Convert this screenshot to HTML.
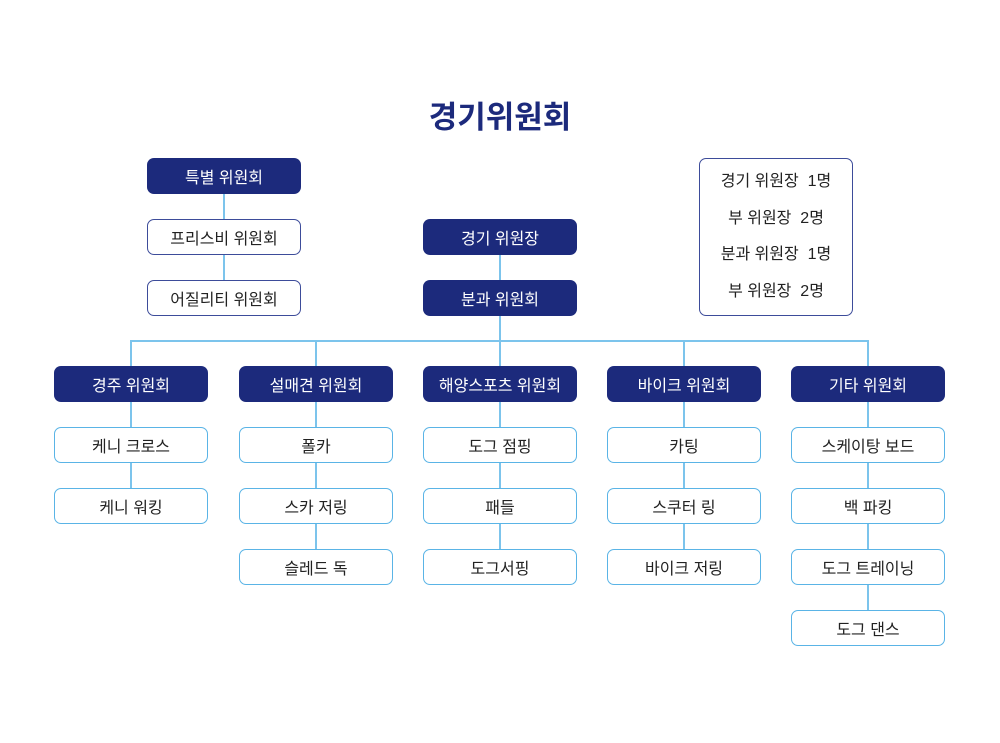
<!DOCTYPE html><html><head><meta charset="utf-8"><style>
body{margin:0;width:1000px;height:743px;background:#fff;position:relative;font-family:"Liberation Sans","Noto Sans CJK KR",sans-serif;overflow:hidden}
.b{position:absolute;width:154px;height:36px;box-sizing:border-box;border-radius:7px;display:flex;align-items:center;justify-content:center;font-size:16px;color:#222}
.n{background:#1c2a7c;color:#fff}
.w{border:1.5px solid #5ab4e6;background:#fff}
.v{border:1.5px solid #3d4c9a;background:#fff}
.l{position:absolute;background:#7cc4ec}
</style></head><body>
<div style="position:absolute;left:0;width:1000px;top:92px;text-align:center;font-size:31px;font-weight:bold;color:#1c2a7c">경기위원회</div>
<div class="l" style="left:223px;top:194px;width:2px;height:86px"></div>
<div class="l" style="left:499px;top:255px;width:2px;height:86px"></div>
<div class="l" style="left:131px;top:340px;width:738px;height:2px"></div>
<div class="l" style="left:130px;top:340px;width:2px;height:167px"></div>
<div class="l" style="left:315px;top:340px;width:2px;height:228px"></div>
<div class="l" style="left:499px;top:340px;width:2px;height:228px"></div>
<div class="l" style="left:683px;top:340px;width:2px;height:228px"></div>
<div class="l" style="left:867px;top:340px;width:2px;height:289px"></div>
<div class="b n" style="left:147px;top:158px">특별 위원회</div>
<div class="b v" style="left:147px;top:219px">프리스비 위원회</div>
<div class="b v" style="left:147px;top:280px">어질리티 위원회</div>
<div class="b n" style="left:423px;top:219px">경기 위원장</div>
<div class="b n" style="left:423px;top:280px">분과 위원회</div>
<div style="position:absolute;left:699px;top:158px;width:154px;height:158px;box-sizing:border-box;border:1.5px solid #3d4c9a;border-radius:7px;font-size:16px;color:#222;text-align:center;line-height:36.5px;padding-top:5px;white-space:pre">경기 위원장  1명
부 위원장  2명
분과 위원장  1명
부 위원장  2명</div>
<div class="b n" style="left:54px;top:366px">경주 위원회</div>
<div class="b w" style="left:54px;top:427px">케니 크로스</div>
<div class="b w" style="left:54px;top:488px">케니 워킹</div>
<div class="b n" style="left:239px;top:366px">설매견 위원회</div>
<div class="b w" style="left:239px;top:427px">폴카</div>
<div class="b w" style="left:239px;top:488px">스카 저링</div>
<div class="b w" style="left:239px;top:549px">슬레드 독</div>
<div class="b n" style="left:423px;top:366px">해양스포츠 위원회</div>
<div class="b w" style="left:423px;top:427px">도그 점핑</div>
<div class="b w" style="left:423px;top:488px">패들</div>
<div class="b w" style="left:423px;top:549px">도그서핑</div>
<div class="b n" style="left:607px;top:366px">바이크 위원회</div>
<div class="b w" style="left:607px;top:427px">카팅</div>
<div class="b w" style="left:607px;top:488px">스쿠터 링</div>
<div class="b w" style="left:607px;top:549px">바이크 저링</div>
<div class="b n" style="left:791px;top:366px">기타 위원회</div>
<div class="b w" style="left:791px;top:427px">스케이탕 보드</div>
<div class="b w" style="left:791px;top:488px">백 파킹</div>
<div class="b w" style="left:791px;top:549px">도그 트레이닝</div>
<div class="b w" style="left:791px;top:610px">도그 댄스</div>
</body></html>
